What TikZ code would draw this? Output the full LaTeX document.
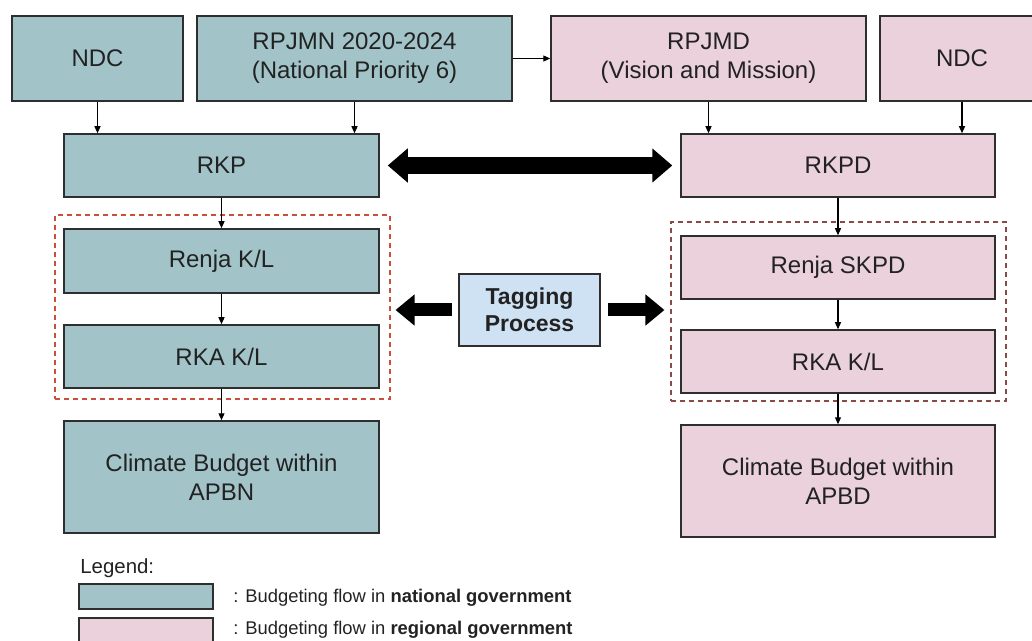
\documentclass[tikz,border=0pt]{standalone}
\usepackage{fontspec}
\setmainfont{Liberation Sans}
\usetikzlibrary{arrows.meta,calc}
\definecolor{natfill}{HTML}{A2C4C9}
\definecolor{regfill}{HTML}{EAD1DC}
\definecolor{tagfill}{HTML}{CFE2F3}
\definecolor{boxline}{HTML}{2E2E2E}
\definecolor{dashred}{HTML}{C9503C}
\definecolor{dashbrown}{HTML}{8A4B45}
\definecolor{txt}{HTML}{222222}
\tikzset{
 box/.style={draw=boxline, line width=0.75pt, text=txt, align=center, inner sep=0pt, font=\fontsize{12}{14.5}\selectfont},
 nat/.style={box, fill=natfill},
 reg/.style={box, fill=regfill},
 tagbox/.style={box, fill=tagfill, font=\fontsize{11.5}{13.5}\selectfont\bfseries},
 grp/.style={dash pattern=on 2.5pt off 2pt, line width=0.55pt, inner sep=0pt},
 flow/.style={draw=black, line width=0.55pt, -{Triangle[length=3.5pt,width=3pt]}},
 bigarrow/.style={draw=black, line width=8.5pt, {Triangle[length=10pt,width=16.5pt]}-{Triangle[length=10pt,width=16.5pt]}},
 tagarrow/.style={draw=black, line width=6.5pt, -{Triangle[length=9.5pt,width=15pt]}},
 legtext/.style={anchor=west, inner sep=0pt, text=txt, font=\fontsize{9.2}{11}\selectfont},
}
\begin{document}
\begin{tikzpicture}[x=0.5pt,y=-0.5pt]
\useasboundingbox (0,0) rectangle (1032,641);
% top row
\node[nat, minimum width=85.5pt, minimum height=42.5pt] (ndcL) at (97.5,58.5) {NDC};
\node[nat, minimum width=157.5pt, minimum height=42.5pt] (rpjmn) at (354.5,58.5) {RPJMN 2020-2024\\(National Priority 6)};
\node[reg, minimum width=157.5pt, minimum height=42.5pt] (rpjmd) at (708.5,58.5) {RPJMD\\(Vision and Mission)};
\node[reg, minimum width=82pt, minimum height=42.5pt] (ndcR) at (962,58.5) {NDC};
% second row
\node[nat, minimum width=157.5pt, minimum height=31.5pt] (rkp) at (221.5,165.5) {RKP};
\node[reg, minimum width=157pt, minimum height=31.5pt] (rkpd) at (838,165.5) {RKPD};
% dashed groups
\node[grp, draw=dashred, minimum width=167.5pt, minimum height=92pt] (dashL) at (222.5,307) {};
\node[grp, draw=dashbrown, minimum width=167.5pt, minimum height=89.5pt] (dashR) at (838.5,311.5) {};
% left column
\node[nat, minimum width=157.5pt, minimum height=32pt] (renjaL) at (221.5,261) {Renja K/L};
\node[nat, minimum width=157.5pt, minimum height=31.5pt] (rkaL) at (221.5,356.5) {RKA K/L};
\node[nat, minimum width=157.5pt, minimum height=56pt] (climL) at (221.5,477) {Climate Budget within\\APBN};
% right column
\node[reg, minimum width=157pt, minimum height=31.5pt] (renjaR) at (838,267.5) {Renja SKPD};
\node[reg, minimum width=157pt, minimum height=31.5pt] (rkaR) at (838,361.5) {RKA K/L};
\node[reg, minimum width=157pt, minimum height=56pt] (climR) at (838,481) {Climate Budget within\\APBD};
% tagging
\node[tagbox, minimum width=70.5pt, minimum height=36pt] (tag) at (529.5,310) {Tagging\\Process};
% connectors
\draw[flow] (ndcL.south) -- (ndcL.south |- rkp.north);
\draw[flow] (rpjmn.south) -- (rpjmn.south |- rkp.north);
\draw[flow] (rpjmn.east) -- (rpjmd.west);
\draw[flow] (rpjmd.south) -- (rpjmd.south |- rkpd.north);
\draw[flow] (ndcR.south) -- (ndcR.south |- rkpd.north);
\draw[flow] (rkp.south) -- (renjaL.north);
\draw[flow] (renjaL.south) -- (rkaL.north);
\draw[flow] (rkaL.south) -- (climL.north);
\draw[flow] (rkpd.south) -- (renjaR.north);
\draw[flow] (renjaR.south) -- (rkaR.north);
\draw[flow] (rkaR.south) -- (climR.north);
\draw[bigarrow, shorten <=4pt, shorten >=4pt] (rkp.east) -- (rkpd.west);
\draw[tagarrow, shorten <=3pt, shorten >=2.5pt] (tag.west) -- (tag.west -| dashL.east);
\draw[tagarrow, shorten <=3.5pt, shorten >=3pt] (tag.east) -- (tag.east -| dashR.west);
% legend
\node[legtext, font=\fontsize{10.2}{12}\selectfont] (legtitle) at (80,568) {Legend:};
\node[nat, minimum width=67pt, minimum height=12.5pt] (legN) at (146,596.5) {};
\node[reg, minimum width=67pt, minimum height=12.5pt] (legR) at (146,630.5) {};
\node[legtext] (legNt) at (233,598) {: Budgeting flow in \textbf{national government}};
\node[legtext] (legRt) at (233,630) {: Budgeting flow in \textbf{regional government}};
\end{tikzpicture}
\end{document}
